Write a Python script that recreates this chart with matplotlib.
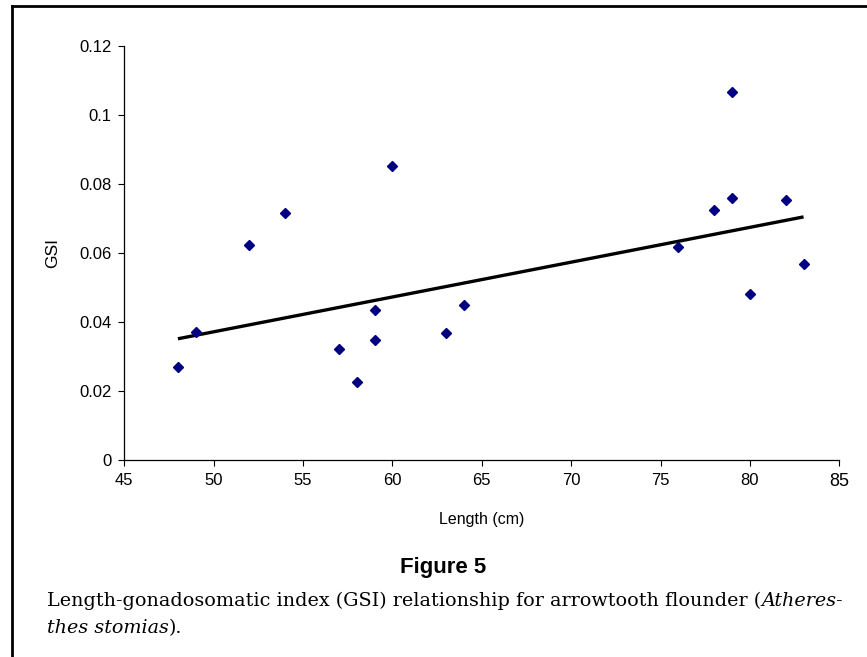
import numpy as np
import matplotlib
matplotlib.use('Agg')
import matplotlib.pyplot as plt
from matplotlib.lines import Line2D

# ── data ─────────────────────────────────────────────────────────────────────
LENGTH = [48, 49, 52, 54, 57, 58, 59, 59, 60, 63, 64,
          76, 78, 79, 79, 80, 82, 83]
GSI = [0.0270, 0.0372, 0.0624, 0.0717, 0.0322, 0.0227, 0.0436, 0.0349,
       0.0852, 0.0369, 0.0450, 0.0618, 0.0725, 0.1067, 0.0760, 0.0482,
       0.0754, 0.0570]
TREND_X = [48, 83]
TREND_Y = [0.0352, 0.0705]

X_TICKS = [45, 50, 55, 60, 65, 70, 75, 80, 85]
Y_TICKS = [0, 0.02, 0.04, 0.06, 0.08, 0.1, 0.12]
Y_LABELS = ['0', '0.02', '0.04', '0.06', '0.08', '0.1', '0.12']

SANS = ['Liberation Sans', 'DejaVu Sans']
SERIF = ['DejaVu Serif']

W, H = 867, 657
fig = plt.figure(figsize=(W / 100, H / 100), dpi=100)
ax = fig.add_axes([124.3 / W, 1 - 460.3 / H, (839.3 - 124.3) / W, (460.3 - 46) / H])

ax.plot(TREND_X, TREND_Y, color='black', lw=2.4, solid_capstyle='butt', zorder=2)
ax.plot(LENGTH, GSI, ls='none', marker='D', ms=5.5, color='#000080',
        mec='#000080', zorder=3)

ax.set_xlim(45, 85)
ax.set_ylim(0, 0.12)
ax.set_xticks(X_TICKS)
ax.set_xticklabels([str(v) for v in X_TICKS], fontfamily=SANS, fontsize=12)
ax.set_yticks(Y_TICKS)
ax.set_yticklabels(Y_LABELS, fontfamily=SANS, fontsize=12)
ax.get_xticklabels()[-1].set_fontsize(13)
ax.tick_params(direction='out', length=4, width=0.8, color='black', pad=5)
for s in ('top', 'right'):
    ax.spines[s].set_visible(False)
for s in ('left', 'bottom'):
    ax.spines[s].set_linewidth(0.9)

ax.set_xlabel('Length (cm)', fontfamily=SANS, fontsize=11.5, labelpad=16)
ax.set_ylabel('GSI', fontfamily=SANS, fontsize=12.5, labelpad=14)

# page frame (top and left edges visible)
fig.add_artist(Line2D([12 / W, 12 / W], [0, 1 - 6 / H], color='black', lw=2,
                      transform=fig.transFigure))
fig.add_artist(Line2D([12 / W, 1], [1 - 6 / H, 1 - 6 / H], color='black', lw=2,
                      transform=fig.transFigure))

fig.text(443 / W, 1 - 568 / H, 'Figure 5', ha='center', va='center',
         fontsize=16, fontweight='bold',
         fontfamily=['Liberation Sans Narrow', 'Liberation Sans'])

# caption with italic species name
renderer = fig.canvas.get_renderer()
cap_size = 13.8
x0 = 47 / W
y1 = 1 - 601 / H
y2 = 1 - 628 / H
t1 = fig.text(x0, y1, 'Length-gonadosomatic index (GSI) relationship for arrowtooth flounder (',
              ha='left', va='center', fontsize=cap_size, fontfamily=SERIF)
bb = t1.get_window_extent(renderer)
fig.text(bb.x1 / W, y1, 'Atheres-', ha='left', va='center', fontsize=cap_size,
         fontfamily=SERIF, fontstyle='italic')
t2 = fig.text(x0, y2, 'thes stomias', ha='left', va='center', fontsize=cap_size,
              fontfamily=SERIF, fontstyle='italic')
bb2 = t2.get_window_extent(renderer)
fig.text(bb2.x1 / W, y2, ').', ha='left', va='center', fontsize=cap_size,
         fontfamily=SERIF)

fig.savefig('out.png', dpi=100)
